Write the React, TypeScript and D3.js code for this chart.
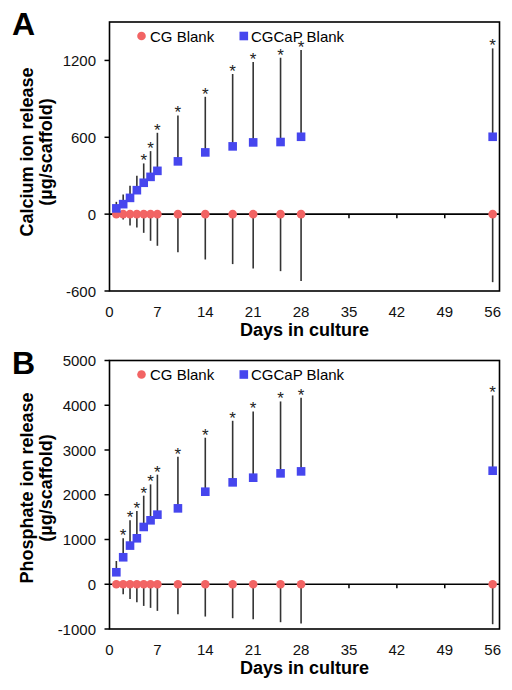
import React from "react";
import * as d3 from "d3";

const days = [1, 2, 3, 4, 5, 6, 7, 10, 14, 18, 21, 25, 28, 56];
const xTicks = [0, 7, 14, 21, 28, 35, 42, 49, 56];

// Panel A: calcium
const caCGCaP = [45, 78, 127, 187, 245, 291, 338, 412, 482, 529, 560, 563, 604, 604];
const caCGCaPErr = [51, 76, 94, 112, 151, 201, 297, 359, 434, 565, 628, 658, 677, 690];
const caCG = [0, 0, 0, 0, 0, 0, 0, 0, 0, 0, 0, 0, 0, 0];
const caCGErr = [8, 41, 88, 105, 146, 208, 247, 297, 354, 390, 424, 445, 521, 531];
const caSig = [false, false, false, false, true, true, true, true, true, true, true, true, true, true];
const caTicks = [-600, 0, 600, 1200];

// Panel B: phosphate
const pCGCaP = [268, 603, 864, 1027, 1280, 1429, 1555, 1696, 2068, 2277, 2381, 2478, 2522, 2537];
const pCGCaPErr = [252, 424, 565, 610, 699, 803, 893, 1154, 1206, 1376, 1480, 1607, 1645, 1682];
const pCG = [0, 0, 0, 0, 0, 0, 0, 0, 0, 0, 0, 0, 0, 0];
const pCGErr = [0, 223, 327, 402, 484, 528, 595, 670, 722, 759, 782, 848, 878, 893];
const pSig = [false, true, true, true, true, true, true, true, true, true, true, true, true, true];
const pTicks = [-1000, 0, 1000, 2000, 3000, 4000, 5000];

const RED = "#F26464";
const BLUE = "#4646EE";
const FONT = "'Liberation Sans', Arial, sans-serif";

type PanelProps = {
  letter: string;
  top: number;
  bottom: number;
  yDomain: [number, number];
  yTicks: number[];
  titleLines: string[];
  sq: number[];
  sqErr: number[];
  ci: number[];
  ciErr: number[];
  sig: boolean[];
  titleCenter: number;
};

function Panel(p: PanelProps) {
  const left = 109.5;
  const right = 499.5;
  const x = d3.scaleLinear().domain([0, 57]).range([left, right]);
  const y = d3.scaleLinear().domain(p.yDomain).range([p.bottom, p.top]);
  const y0 = y(0);
  return (
    <g fontFamily={FONT}>
      <text x={12} y={p.top + 13} fontSize={32} fontWeight="bold">{p.letter}</text>
      {/* frame */}
      <rect x={left} y={p.top} width={right - left} height={p.bottom - p.top} fill="none" stroke="#000" strokeWidth={1.6} />
      {/* y ticks */}
      {p.yTicks.map((t) => (
        <g key={t}>
          <line x1={left - 5} x2={left} y1={y(t)} y2={y(t)} stroke="#000" strokeWidth={1.5} />
          <text x={96} y={y(t) + 5.5} fontSize={15} textAnchor="end" fill="#111">{t}</text>
        </g>
      ))}
      {/* zero line */}
      <line x1={left} x2={right} y1={y0} y2={y0} stroke="#000" strokeWidth={1.6} />
      {xTicks.map((t) => (
        <g key={t}>
          {t > 0 && <line x1={x(t)} x2={x(t)} y1={y0} y2={y0 + 4} stroke="#000" strokeWidth={1.5} />}
          <text x={x(t)} y={p.bottom + 26} fontSize={15} textAnchor="middle" fill="#111">{t}</text>
        </g>
      ))}
      <text x={(left + right) / 2} y={p.bottom + 45} fontSize={18} fontWeight="bold" textAnchor="middle">Days in culture</text>
      <text transform={`translate(33,${p.titleCenter}) rotate(-90)`} fontSize={18} fontWeight="bold" textAnchor="middle">{p.titleLines[0]}</text>
      <text transform={`translate(52,${p.titleCenter}) rotate(-90)`} fontSize={18} fontWeight="bold" textAnchor="middle">{p.titleLines[1]}</text>
      {/* error bars */}
      {days.map((d, i) => (
        <g key={"e" + d}>
          <line x1={x(d)} x2={x(d)} y1={y(p.sq[i])} y2={y(p.sq[i] + p.sqErr[i])} stroke="#333" strokeWidth={1.6} />
          <line x1={x(d)} x2={x(d)} y1={y(p.ci[i])} y2={y(p.ci[i] - p.ciErr[i])} stroke="#333" strokeWidth={1.6} />
          {p.sig[i] && (
            <text x={x(d)} y={y(p.sq[i] + p.sqErr[i]) + 3} fontSize={17} textAnchor="middle" fill="#222">*</text>
          )}
        </g>
      ))}
      {days.map((d, i) => (
        <circle key={"c" + d} cx={x(d)} cy={y(p.ci[i])} r={4.3} fill={RED} />
      ))}
      {days.map((d, i) => (
        <rect key={"s" + d} x={x(d) - 4.3} y={y(p.sq[i]) - 4.3} width={8.6} height={8.6} fill={BLUE} />
      ))}
      {/* legend */}
      <circle cx={141.5} cy={p.top + 14} r={4.3} fill={RED} />
      <text x={150} y={p.top + 19.5} fontSize={15}>CG Blank</text>
      <rect x={239.5} y={p.top + 9.7} width={8.6} height={8.6} fill={BLUE} />
      <text x={251} y={p.top + 19.5} fontSize={15}>CGCaP Blank</text>
    </g>
  );
}

export default function App() {
  return (
    <svg width={512} height={690} style={{ position: "absolute", left: 0, top: 0, background: "#fff" }}>
      <rect width={512} height={690} fill="#fff" />
      <Panel
        letter="A"
        top={22}
        bottom={291}
        yDomain={[-600, 1500]}
        yTicks={caTicks}
        titleLines={["Calcium ion release", "(µg/scaffold)"]}
        sq={caCGCaP}
        sqErr={caCGCaPErr}
        ci={caCG}
        ciErr={caCGErr}
        sig={caSig}
        titleCenter={152}
      />
      <Panel
        letter="B"
        top={360.5}
        bottom={629}
        yDomain={[-1000, 5000]}
        yTicks={pTicks}
        titleLines={["Phosphate ion release", "(µg/scaffold)"]}
        sq={pCGCaP}
        sqErr={pCGCaPErr}
        ci={pCG}
        ciErr={pCGErr}
        sig={pSig}
        titleCenter={488}
      />
    </svg>
  );
}
